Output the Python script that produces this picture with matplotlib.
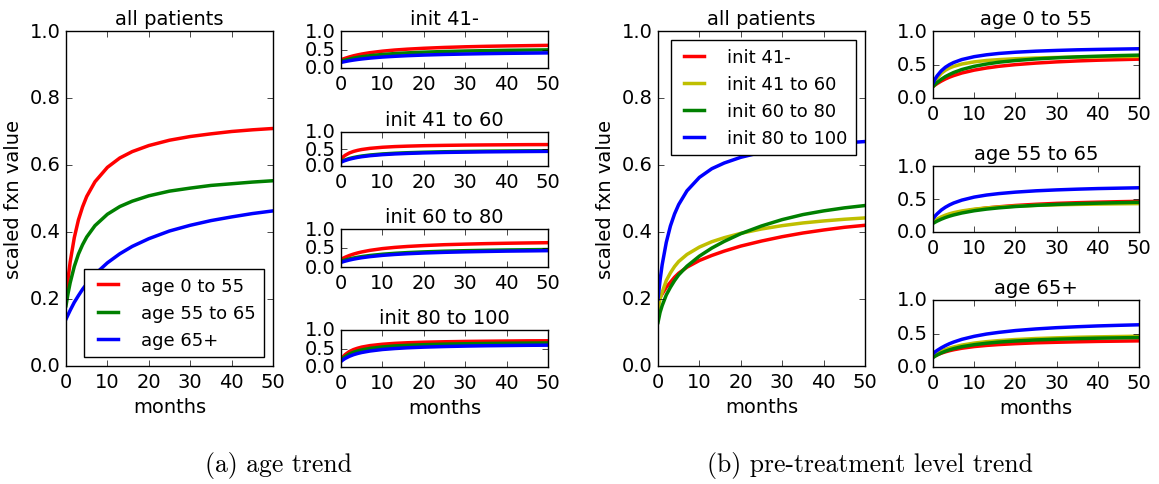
import matplotlib
matplotlib.use('Agg')
import matplotlib.pyplot as plt

plt.style.use('classic')
plt.rcParams['font.family'] = ['DejaVu Sans']
plt.rcParams['font.size'] = 14
plt.rcParams['legend.fontsize'] = 13

months = [0, 0.5, 1, 2, 3, 4, 5, 7, 10, 13, 16, 20, 25, 30, 35, 40, 45, 50]

age_labels = ['age 0 to 55', 'age 55 to 65', 'age 65+']
init_labels = ['init 41-', 'init 41 to 60', 'init 60 to 80', 'init 80 to 100']
age_colors = ['r', 'g', 'b']
init_colors = ['r', 'y', 'g', 'b']

# (a) all patients, one curve per age group
a_all_age0 = [.20, .261, .31, .383, .436, .475, .506, .55, .593, .621, .64, .658, .674, .685, .693, .70, .705, .709]
a_all_age55 = [.18, .217, .248, .297, .334, .362, .385, .419, .453, .476, .492, .508, .522, .531, .539, .544, .549, .553]
a_all_age65 = [.14, .153, .166, .19, .21, .229, .245, .274, .308, .335, .357, .38, .403, .42, .434, .445, .455, .463]

# (a) per init level, curves age 0-55 / 55-65 / 65+
a_init41_age0 = [.22, .243, .263, .298, .329, .354, .377, .414, .455, .486, .509, .533, .556, .573, .586, .596, .604, .612]
a_init41_age55 = [.18, .198, .214, .242, .266, .286, .304, .333, .366, .39, .409, .428, .446, .459, .469, .478, .484, .49]
a_init41_age65 = [.15, .163, .175, .196, .214, .23, .244, .268, .296, .316, .333, .35, .366, .378, .388, .396, .402, .408]

a_init60_age0 = [.20, .265, .314, .382, .428, .46, .485, .519, .551, .571, .584, .597, .607, .615, .62, .624, .628, .63]
a_init60_age55 = [.13, .158, .181, .22, .249, .273, .293, .323, .354, .375, .39, .405, .419, .428, .436, .441, .446, .45]
a_init60_age65 = [.11, .138, .161, .20, .229, .253, .273, .303, .334, .355, .37, .385, .399, .408, .416, .421, .426, .43]

a_init80_age0 = [.20, .23, .257, .302, .339, .37, .396, .438, .484, .516, .54, .564, .587, .602, .615, .625, .633, .64]
a_init80_age55 = [.15, .168, .184, .212, .236, .256, .274, .303, .336, .36, .379, .398, .416, .429, .439, .448, .454, .46]
a_init80_age65 = [.12, .138, .154, .182, .206, .226, .244, .273, .306, .33, .349, .368, .386, .399, .409, .418, .424, .43]

a_init100_age0 = [.20, .277, .335, .416, .47, .508, .538, .578, .615, .639, .655, .67, .682, .691, .697, .702, .707, .709]
a_init100_age55 = [.18, .236, .282, .349, .398, .434, .462, .503, .543, .569, .586, .603, .618, .628, .636, .642, .646, .65]
a_init100_age65 = [.15, .194, .231, .288, .332, .365, .392, .432, .473, .499, .519, .537, .553, .565, .574, .58, .586, .59]

# (b) all patients, one curve per init level
b_all_init41 = [.19, .205, .215, .235, .25, .265, .277, .295, .315, .33, .343, .358, .373, .386, .397, .406, .414, .42]
b_all_init60 = [.17, .20, .22, .255, .278, .297, .312, .333, .355, .371, .383, .396, .409, .419, .427, .433, .438, .442]
b_all_init80 = [.13, .16, .18, .212, .235, .255, .272, .298, .328, .352, .372, .395, .418, .437, .452, .463, .472, .479]
b_all_init100 = [.20, .256, .302, .369, .418, .454, .482, .523, .563, .589, .606, .623, .638, .648, .656, .662, .666, .67]

# (b) per age group, curves init 41- / 41-60 / 60-80 / 80-100
b_age0_init41 = [.17, .194, .215, .252, .284, .311, .334, .373, .416, .448, .473, .498, .521, .539, .553, .564, .572, .58]
b_age0_init60 = [.18, .247, .297, .367, .414, .447, .472, .507, .539, .56, .573, .586, .597, .605, .61, .614, .618, .62]
b_age0_init80 = [.17, .202, .23, .279, .319, .351, .38, .425, .473, .507, .534, .559, .583, .60, .614, .624, .633, .64]
b_age0_init100 = [.22, .282, .331, .405, .459, .498, .529, .574, .617, .645, .665, .683, .699, .71, .719, .725, .73, .735]

b_age55_init41 = [.15, .168, .184, .213, .237, .258, .276, .306, .339, .364, .382, .402, .42, .434, .444, .452, .459, .465]
b_age55_init60 = [.15, .174, .195, .229, .255, .276, .293, .319, .346, .365, .378, .391, .403, .412, .418, .423, .427, .43]
b_age55_init80 = [.13, .148, .165, .194, .219, .24, .258, .288, .322, .347, .366, .386, .404, .418, .429, .437, .444, .45]
b_age55_init100 = [.20, .241, .275, .332, .375, .41, .439, .483, .529, .56, .582, .604, .624, .638, .649, .658, .664, .67]

b_age65_init41 = [.15, .166, .181, .206, .226, .243, .257, .28, .305, .322, .335, .348, .361, .369, .376, .382, .386, .39]
b_age65_init60 = [.17, .19, .207, .237, .262, .282, .299, .327, .357, .378, .394, .41, .425, .435, .444, .45, .455, .46]
b_age65_init80 = [.14, .161, .179, .21, .235, .256, .274, .303, .333, .355, .372, .388, .404, .415, .423, .43, .435, .44]
b_age65_init100 = [.20, .225, .247, .286, .319, .348, .372, .413, .458, .492, .517, .544, .568, .587, .601, .613, .622, .63]

a_all = [a_all_age0, a_all_age55, a_all_age65]
a_small = {
    'init 41-': [a_init41_age0, a_init41_age55, a_init41_age65],
    'init 41 to 60': [a_init60_age0, a_init60_age55, a_init60_age65],
    'init 60 to 80': [a_init80_age0, a_init80_age55, a_init80_age65],
    'init 80 to 100': [a_init100_age0, a_init100_age55, a_init100_age65],
}
b_all = [b_all_init41, b_all_init60, b_all_init80, b_all_init100]
b_small = {
    'age 0 to 55': [b_age0_init41, b_age0_init60, b_age0_init80, b_age0_init100],
    'age 55 to 65': [b_age55_init41, b_age55_init60, b_age55_init80, b_age55_init100],
    'age 65+': [b_age65_init41, b_age65_init60, b_age65_init80, b_age65_init100],
}

W, H = 1159, 485
fig = plt.figure(figsize=(W / 100, H / 100), dpi=100, facecolor='white')


def px_axes(left, top, right, bottom):
    return fig.add_axes([left / W, 1 - bottom / H, (right - left) / W, (bottom - top) / H])


def draw(ax, series, colors, labels=None):
    for i, ys in enumerate(series):
        lab = labels[i] if labels else None
        ax.plot(months, ys, color=colors[i], lw=2.5, label=lab)
    ax.set_xlim(0, 50)
    ax.set_ylim(0, 1)
    ax.set_xticks([0, 10, 20, 30, 40, 50])


leg_kw = dict(handlelength=1.7, handletextpad=1.0, borderpad=0.45)

# panel (a)
ax = px_axes(66, 32, 273, 367)
draw(ax, a_all, age_colors, age_labels)
ax.set_yticks([0, .2, .4, .6, .8, 1.0])
ax.set_title('all patients', fontsize=14)
ax.set_xlabel('months')
ax.set_ylabel('scaled fxn value')
ax.legend(loc='lower right', **leg_kw)

rows_a = [(32, 69), (133, 167), (230, 268), (331, 368)]
for (top, bot), (name, series) in zip(rows_a, a_small.items()):
    ax = px_axes(341, top, 548, bot)
    draw(ax, series, age_colors)
    ax.set_yticks([0, .5, 1.0])
    ax.set_title(name, fontsize=14)
ax.set_xlabel('months')

# panel (b)
ax = px_axes(658, 32, 865, 367)
draw(ax, b_all, init_colors, init_labels)
ax.set_yticks([0, .2, .4, .6, .8, 1.0])
ax.set_title('all patients', fontsize=14)
ax.set_xlabel('months')
ax.set_ylabel('scaled fxn value')
ax.legend(loc='upper right', **leg_kw)

rows_b = [(32, 99), (167, 233), (301, 368)]
for (top, bot), (name, series) in zip(rows_b, b_small.items()):
    ax = px_axes(933, top, 1139, bot)
    draw(ax, series, init_colors)
    ax.set_yticks([0, .5, 1.0])
    ax.set_title(name, fontsize=14)
ax.set_xlabel('months')

fig.text(278 / W, 1 - 466 / H, '(a) age trend', family='cmr10', fontsize=18.5,
         ha='center', va='center')
fig.text(870 / W, 1 - 466 / H, '(b) pre-treatment level trend', family='cmr10',
         fontsize=18.5, ha='center', va='center')

fig.savefig('out.png', dpi=100, facecolor='white')
